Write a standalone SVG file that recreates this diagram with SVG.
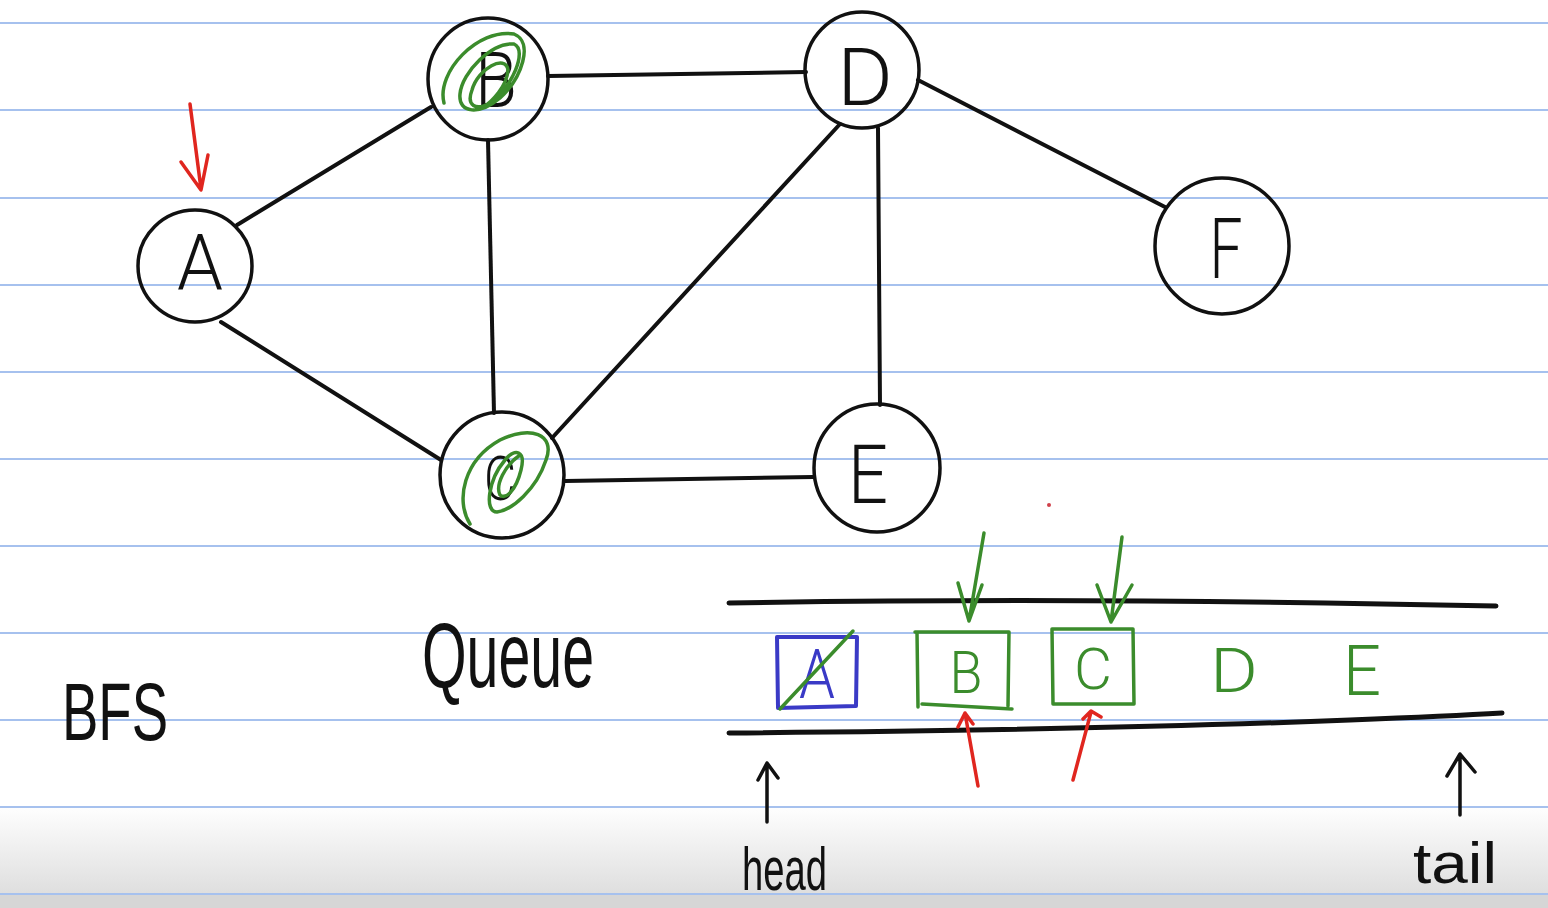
<svg xmlns="http://www.w3.org/2000/svg" width="1548" height="908" viewBox="0 0 1548 908">
  <defs>
    <linearGradient id="shade" x1="0" y1="0" x2="0" y2="1">
      <stop offset="0" stop-color="#ffffff"/>
      <stop offset="1" stop-color="#dedede"/>
    </linearGradient>
  </defs>
  <style>
    .rule { stroke: #a6c1ee; stroke-width: 2; }
    .node { fill: none; stroke: #111; stroke-width: 3.5; }
    .edge { stroke: #111; stroke-width: 4; stroke-linecap: round; fill: none; }
    .lbl { font-family: "Roboto", "Liberation Sans", sans-serif; font-weight: 300; fill: #111; text-anchor: middle; }
    .hand { font-family: "Liberation Sans", "DejaVu Sans", sans-serif; fill: #111; }
    .pen { fill: none; stroke-linecap: round; stroke-linejoin: round; }
    .green { stroke: #3b8c2c; stroke-width: 3.5; }
    .red { stroke: #e0261f; stroke-width: 3.5; }
    .blue { stroke: #3a3ac6; stroke-width: 4; }
    .ink { stroke: #111; stroke-width: 3.5; }
    .qline { stroke: #111; stroke-width: 5; fill: none; stroke-linecap: round; }
    .qg { font-family: "Roboto", "Liberation Sans", sans-serif; font-weight: 300; fill: #3b8c2c; text-anchor: middle; }
  </style>

  <!-- paper -->
  <rect x="0" y="0" width="1548" height="908" fill="#ffffff"/>
  <rect x="0" y="805" width="1548" height="90" fill="url(#shade)"/>
  <rect x="0" y="895" width="1548" height="13" fill="#d6d6d6"/>
  <g id="ruling">
    <line class="rule" x1="0" y1="23" x2="1548" y2="23"/>
    <line class="rule" x1="0" y1="110" x2="1548" y2="110"/>
    <line class="rule" x1="0" y1="198" x2="1548" y2="198"/>
    <line class="rule" x1="0" y1="285" x2="1548" y2="285"/>
    <line class="rule" x1="0" y1="372" x2="1548" y2="372"/>
    <line class="rule" x1="0" y1="459" x2="1548" y2="459"/>
    <line class="rule" x1="0" y1="546" x2="1548" y2="546"/>
    <line class="rule" x1="0" y1="633" x2="1548" y2="633"/>
    <line class="rule" x1="0" y1="720" x2="1548" y2="720"/>
    <line class="rule" x1="0" y1="807" x2="1548" y2="807"/>
    <line class="rule" x1="0" y1="894" x2="1548" y2="894" stroke="#8fa9dc"/>
  </g>

  <!-- graph edges -->
  <g id="connectors">
    <line class="edge" x1="237" y1="225" x2="431" y2="107"/>
    <line class="edge" x1="221" y1="322" x2="441" y2="460"/>
    <line class="edge" x1="548" y1="76" x2="806" y2="72"/>
    <line class="edge" x1="488" y1="140" x2="494" y2="413"/>
    <line class="edge" x1="840" y1="124" x2="552" y2="438"/>
    <line class="edge" x1="878" y1="128" x2="880" y2="405"/>
    <line class="edge" x1="918" y1="80" x2="1165" y2="207"/>
    <line class="edge" x1="565" y1="481" x2="813" y2="477"/>
  </g>

  <!-- nodes -->
  <g id="node-A">
    <ellipse class="node" cx="195" cy="266" rx="57" ry="56"/>
    <text class="lbl" x="200" y="290" font-size="78" textLength="46" lengthAdjust="spacingAndGlyphs">A</text>
  </g>
  <g id="node-B">
    <ellipse class="node" cx="488" cy="79" rx="60" ry="61"/>
    <text class="lbl" x="496" y="107" font-size="78" textLength="42" lengthAdjust="spacingAndGlyphs">B</text>
    <path class="pen green" d="M 444 103 C 436 72, 478 28, 514 34 C 534 42, 522 78, 500 98 C 480 115, 458 114, 460 94 C 462 72, 492 42, 514 44 C 528 50, 512 88, 490 103 C 476 111, 466 106, 472 90 C 478 68, 506 54, 508 70 C 507 86, 492 102, 482 108"/>
  </g>
  <g id="node-C">
    <ellipse class="node" cx="502" cy="475" rx="62" ry="63"/>
    <text class="lbl" x="500" y="500" font-size="62" textLength="32" lengthAdjust="spacingAndGlyphs">C</text>
    <path class="pen green" d="M 470 524 C 455 500, 464 460, 500 440 C 530 425, 556 434, 546 460 C 536 490, 512 510, 497 512 C 484 512, 488 480, 505 460 C 515 448, 526 450, 521 470 C 516 490, 506 500, 500 495 C 495 485, 505 465, 520 455"/>
  </g>
  <g id="node-D">
    <ellipse class="node" cx="862" cy="70" rx="57" ry="58"/>
    <text class="lbl" x="865" y="105" font-size="80" textLength="56" lengthAdjust="spacingAndGlyphs">D</text>
  </g>
  <g id="node-E">
    <ellipse class="node" cx="877" cy="468" rx="63" ry="64"/>
    <text class="lbl" x="868" y="503" font-size="82" textLength="40" lengthAdjust="spacingAndGlyphs">E</text>
  </g>
  <g id="node-F">
    <ellipse class="node" cx="1222" cy="246" rx="67" ry="68"/>
    <text class="lbl" x="1226" y="278" font-size="84" textLength="33" lengthAdjust="spacingAndGlyphs">F</text>
  </g>

  <!-- start marker over A -->
  <g id="start-arrow">
    <path class="pen red" d="M 190 104 L 201 189 M 181 162 L 201 190 L 208 155"/>
  </g>
  <circle cx="1049" cy="505" r="2" fill="#d0404a"/>

  <!-- titles -->
  <text class="hand" x="62" y="740" font-size="82" textLength="106" lengthAdjust="spacingAndGlyphs">BFS</text>
  <text class="hand" x="422" y="687" font-size="92" textLength="172" lengthAdjust="spacingAndGlyphs">Queue</text>

  <!-- queue -->
  <g id="queue">
    <path class="qline" d="M 729 603 Q 1080 597 1496 606"/>
    <path class="qline" d="M 729 733 Q 1100 730 1350 720 Q 1450 716 1502 713"/>

    <g id="q-A">
      <path class="pen blue" d="M 777 637 L 857 637 L 856 706 L 778 708 Z"/>
      <text x="817" y="698" font-size="68" fill="#3a3ac6" text-anchor="middle" font-family="Roboto, Liberation Sans, sans-serif" font-weight="300" textLength="36" lengthAdjust="spacingAndGlyphs">A</text>
      <path class="pen green" d="M 780 709 L 853 631"/>
    </g>
    <g id="q-B">
      <path class="pen green" d="M 915 632 L 1009 632 L 1008 706 M 917 632 L 918 707 M 922 704 L 1012 709"/>
      <text class="qg" x="966" y="693" font-size="60" textLength="33" lengthAdjust="spacingAndGlyphs">B</text>
    </g>
    <g id="q-C">
      <path class="pen green" d="M 1052 629 L 1133 629 L 1134 704 L 1053 704 Z"/>
      <text class="qg" x="1093" y="689" font-size="57" textLength="38" lengthAdjust="spacingAndGlyphs">C</text>
    </g>
    <text class="qg" x="1234" y="692" font-size="62" textLength="48" lengthAdjust="spacingAndGlyphs">D</text>
    <text class="qg" x="1362" y="695" font-size="70" textLength="38" lengthAdjust="spacingAndGlyphs">E</text>

    <!-- pointers -->
    <path class="pen green" d="M 984 533 L 969 621 M 958 583 L 969 621 L 982 585"/>
    <path class="pen green" d="M 1122 537 L 1111 622 M 1097 585 L 1111 622 L 1132 585"/>
    <path class="pen red" d="M 978 786 L 965 713 M 958 727 L 965 713 L 973 724"/>
    <path class="pen red" d="M 1073 780 L 1091 712 M 1083 719 L 1091 711 L 1101 717"/>
    <path class="pen ink" d="M 767 822 L 767 763 M 758 780 L 767 763 L 778 778"/>
    <path class="pen ink" d="M 1460 815 L 1460 754 M 1447 776 L 1460 754 L 1475 772"/>
  </g>

  <text class="hand" x="742" y="890" font-size="62" textLength="85" lengthAdjust="spacingAndGlyphs">head</text>
  <text class="hand" x="1413" y="883" font-size="58" textLength="84" lengthAdjust="spacingAndGlyphs">tail</text>
</svg>
